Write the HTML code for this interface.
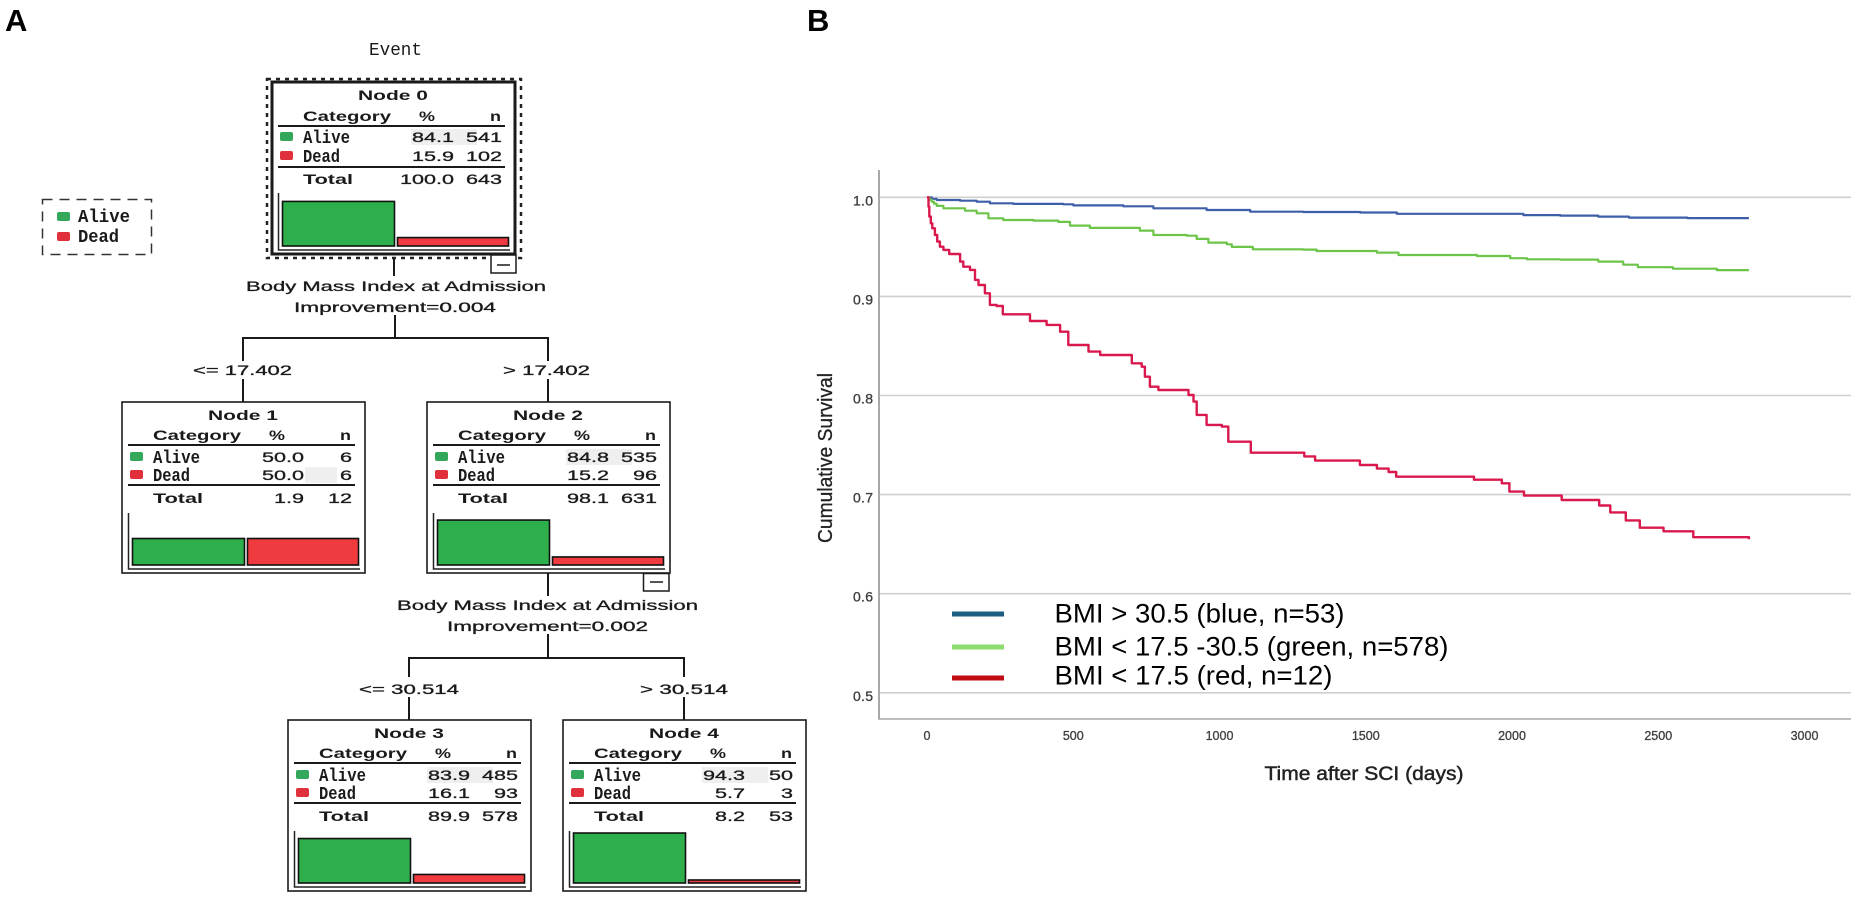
<!DOCTYPE html>
<html lang="en">
<head>
<meta charset="utf-8">
<title>Decision tree and Kaplan-Meier survival by BMI</title>
<style>
html,body{margin:0;padding:0;background:#fff;}
svg{display:block;}
text{font-family:"Liberation Sans",sans-serif;fill:#1a1a1a;}
.t{stroke:#1a1a1a;stroke-width:.3;}
.m{font-family:"Liberation Mono",monospace;font-weight:bold;font-size:18px;stroke:none;}
</style>
</head>
<body>
<svg id="fig" width="1854" height="904" viewBox="0 0 1854 904" xmlns="http://www.w3.org/2000/svg">
  <rect width="1854" height="904" fill="#fff"/>
  <text x="5" y="31" font-size="31" font-weight="bold" style="fill:#000">A</text>
  <text x="807" y="31" font-size="31" font-weight="bold" style="fill:#000">B</text>

  <g id="tree">
    <text class="m" x="369" y="55" style="font-weight:normal" font-size="19" textLength="53" lengthAdjust="spacingAndGlyphs">Event</text>

    <g>
      <rect x="42.5" y="199.5" width="109" height="55" fill="none" stroke="#333" stroke-width="1.5" stroke-dasharray="10 7"/>
      <rect x="57" y="212" width="13" height="9" rx="2" fill="#33a85a"/>
      <rect x="57" y="232" width="13" height="9" rx="2" fill="#e0303c"/>
      <text class="m" x="78" y="222" textLength="52" lengthAdjust="spacingAndGlyphs">Alive</text>
      <text class="m" x="78" y="242" textLength="41" lengthAdjust="spacingAndGlyphs">Dead</text>
    </g>

    <g fill="none" stroke="#1a1a1a" stroke-width="2">
      <path d="M394 258V276"/>
      <path d="M395 315V338M243 361V338H548V361M243 379V402M548 379V402"/>
      <path d="M548 573V596"/>
      <path d="M548 634V658M409 677V658H684V677M409 697V720M684 697V720"/>
    </g>

    <g class="labels">
      <text class="t" x="246" y="291" font-size="14" textLength="300" lengthAdjust="spacingAndGlyphs">Body Mass Index at Admission</text>
      <text class="t" x="294" y="312" font-size="14" textLength="202" lengthAdjust="spacingAndGlyphs">Improvement=0.004</text>
      <text class="t" x="193" y="375" font-size="14" textLength="99" lengthAdjust="spacingAndGlyphs">&lt;= 17.402</text>
      <text class="t" x="503" y="375" font-size="14" textLength="87" lengthAdjust="spacingAndGlyphs">&gt; 17.402</text>
      <text class="t" x="397" y="610" font-size="14" textLength="301" lengthAdjust="spacingAndGlyphs">Body Mass Index at Admission</text>
      <text class="t" x="447" y="631" font-size="14" textLength="201" lengthAdjust="spacingAndGlyphs">Improvement=0.002</text>
      <text class="t" x="359" y="694" font-size="14" textLength="100" lengthAdjust="spacingAndGlyphs">&lt;= 30.514</text>
      <text class="t" x="640" y="694" font-size="14" textLength="88" lengthAdjust="spacingAndGlyphs">&gt; 30.514</text>
    </g>

    <g>
      <rect x="267" y="79" width="254" height="179" fill="none" stroke="#222" stroke-width="2.5" stroke-dasharray="4 5"/>
    </g>
    <g id="nodes"></g>

    <g fill="#fff" stroke="#1a1a1a" stroke-width="1.5">
      <g>
        <rect x="491" y="255" width="25" height="18"/>
        <path d="M497 265H510"/>
      </g>
      <g>
        <rect x="643.5" y="573.5" width="25.5" height="17.5"/>
        <path d="M650 582H663"/>
      </g>
    </g>
  </g>

  <g id="chart"></g>
</svg>

<script>
var NS = 'http://www.w3.org/2000/svg';

/* ---------- Decision tree data ---------- */
var nodeIds = [0, 1, 2, 3, 4];
var nodeLeft = [272, 122, 427, 288, 563];
var nodeTop = [82, 402, 402, 720, 720];
var alivePct = ['84.1', '50.0', '84.8', '83.9', '94.3'];
var aliveN = ['541', '6', '535', '485', '50'];
var deadPct = ['15.9', '50.0', '15.2', '16.1', '5.7'];
var deadN = ['102', '6', '96', '93', '3'];
var totalPct = ['100.0', '1.9', '98.1', '89.9', '8.2'];
var totalN = ['643', '12', '631', '578', '53'];

/* ---------- Survival chart data ---------- */
var xTickLabels = [0, 500, 1000, 1500, 2000, 2500, 3000];
var yTickLabels = ['0.5', '0.6', '0.7', '0.8', '0.9', '1.0'];
var blueTimes = [0, 16, 33, 113, 170, 215, 295, 466, 500, 671, 774, 888, 956, 1105, 1287, 1481, 1606, 1937, 2039, 2165, 2295, 2400, 2600, 2810];
var blueSurvival = [1, .9985, .9973, .9966, .9956, .9939, .9933, .9929, .9918, .9909, .9889, .9889, .9872, .9855, .9852, .9847, .9833, .9833, .982, .9815, .9805, .9795, .979, .979];
var greenTimes = [0, 8, 16, 24, 33, 56, 113, 130, 170, 210, 261, 364, 449, 489, 557, 666, 728, 774, 888, 922, 962, 1025, 1042, 1114, 1287, 1332, 1538, 1612, 1880, 1994, 2051, 2165, 2295, 2380, 2430, 2550, 2700, 2810];
var greenSurvival = [1, .9975, .9956, .9935, .9913, .9889, .9889, .9865, .9839, .9788, .9771, .9765, .9752, .9714, .9691, .9691, .9664, .962, .9613, .958, .9543, .9526, .9499, .9475, .9472, .9458, .9442, .9418, .9408, .9385, .9374, .9371, .9351, .932, .9295, .928, .9265, .9265];
var redTimes = [0, 5, 8, 13, 18, 27, 35, 44, 56, 76, 113, 124, 147, 164, 176, 198, 215, 238, 259, 352, 409, 455, 472, 483, 552, 592, 700, 734, 745, 762, 791, 894, 911, 922, 956, 1008, 1030, 1107, 1290, 1327, 1480, 1538, 1578, 1604, 1870, 1965, 1991, 2041, 2170, 2298, 2336, 2389, 2437, 2518, 2620, 2800, 2810];
var redSurvival = [1, .9906, .9805, .9738, .9687, .962, .9553, .9502, .9469, .9428, .9351, .93, .9267, .9166, .9115, .9031, .8914, .8903, .8819, .8752, .8712, .8644, .8644, .851, .8443, .8409, .8325, .8291, .819, .8089, .8056, .8005, .7938, .7804, .7703, .7686, .7534, .7423, .7385, .7343, .7299, .7262, .7228, .7181, .7150, .7114, .703, .699, .6946, .689, .682, .674, .6666, .663, .657, .657, .655];

function make(parent, tag, attrs, text) {
  var el = document.createElementNS(NS, tag);
  for (var k in attrs) { el.setAttribute(k, attrs[k]); }
  if (text !== undefined) { el.textContent = text; }
  parent.appendChild(el);
  return el;
}

/* ---------- Tree nodes ---------- */
function numWidth(s) {
  var w = 0;
  for (var i = 0; i < s.length; i++) { w += s[i] === '.' ? 6 : 12; }
  return w;
}
var nodesGroup = document.getElementById('nodes');
nodeIds.forEach(function (id, i) {
  var L = nodeLeft[i], T = nodeTop[i];
  var g = make(nodesGroup, 'g', {});
  
  

  var box = make(g, 'rect', { x: L, y: T, width: 243, height: id === 0 ? 172 : 171, fill: '#fff', stroke: '#1a1a1a', 'stroke-width': id === 0 ? 3 : 1.6 });
  
  

  var big = id === 0 ? 1 : 0;
  var yAlive = T + 55, yDead = T + 73 + big, yTotal = T + 96 + big;

  var hiRow = id === 1 ? yDead : yAlive;
  var hiX = id === 1 ? L + 183 : L + 139;
  var hiW = id === 1 ? 32 : 66;
  var hi = make(g, 'rect', { x: hiX, y: hiRow - 8, width: hiW, height: 16, fill: '#efefef' });
  
  

  var title = make(g, 'text', { x: L + 121, y: T + 18, 'text-anchor': 'middle', 'font-size': 14, 'font-weight': 'bold', textLength: 70, lengthAdjust: 'spacingAndGlyphs' }, 'Node ' + id);
  
  

  var cat = make(g, 'text', { x: L + 31, y: T + 38 + big, 'font-size': 14, 'font-weight': 'bold', textLength: 88, lengthAdjust: 'spacingAndGlyphs' }, 'Category');
  
  
  var pc = make(g, 'text', { x: L + 155, y: T + 38 + big, 'text-anchor': 'middle', 'font-size': 14, 'font-weight': 'bold', textLength: 16, lengthAdjust: 'spacingAndGlyphs' }, '%');
  
  
  var nh = make(g, 'text', { x: L + 229, y: T + 38 + big, 'text-anchor': 'end', 'font-size': 14, 'font-weight': 'bold', textLength: 11, lengthAdjust: 'spacingAndGlyphs' }, 'n');
  
  

  var r1 = make(g, 'rect', { x: L + 6, y: T + 42 + big, width: 227, height: 2, fill: '#1a1a1a' });
  
  
  var r2 = make(g, 'rect', { x: L + 6, y: T + 82 + big * 2, width: 227, height: 2, fill: '#1a1a1a' });
  
  

  var s1 = make(g, 'rect', { x: L + 8, y: yAlive - 5, width: 13, height: 9, rx: 2, fill: '#33a85a' });
  
  
  var s2 = make(g, 'rect', { x: L + 8, y: yDead - 5, width: 13, height: 9, rx: 2, fill: '#e0303c' });
  
  

  var la = make(g, 'text', { 'class': 'm', x: L + 31, y: yAlive + 6, textLength: 47, lengthAdjust: 'spacingAndGlyphs' }, 'Alive');
  
  
  var ld = make(g, 'text', { 'class': 'm', x: L + 31, y: yDead + 6, textLength: 37, lengthAdjust: 'spacingAndGlyphs' }, 'Dead');
  
  
  var lt = make(g, 'text', { x: L + 31, y: yTotal + 5, 'font-size': 14, 'font-weight': 'bold', textLength: 50, lengthAdjust: 'spacingAndGlyphs' }, 'Total');
  
  

  var rows = [[yAlive, alivePct[i], aliveN[i], 'alive'], [yDead, deadPct[i], deadN[i], 'dead'], [yTotal, totalPct[i], totalN[i], 'total']];
  rows.forEach(function (r) {
    var a = make(g, 'text', { 'class': 't', x: L + 182, y: r[0] + 5, 'text-anchor': 'end', 'font-size': 14, textLength: numWidth(r[1]), lengthAdjust: 'spacingAndGlyphs' }, r[1]);
    
    
    var b = make(g, 'text', { 'class': 't', x: L + 230, y: r[0] + 5, 'text-anchor': 'end', 'font-size': 14, textLength: numWidth(r[2]), lengthAdjust: 'spacingAndGlyphs' }, r[2]);
    
    
  });

  var base = T + 163 + big;
  var hA = parseFloat(alivePct[i]) * 0.53;
  var hD = parseFloat(deadPct[i]) * 0.53;
  var ba = make(g, 'rect', { x: L + 10.5, y: base - hA, width: 112, height: hA, fill: '#2db04b', stroke: '#111', 'stroke-width': 1.6 });
  
  
  var bd = make(g, 'rect', { x: L + 125.5, y: base - hD, width: 111, height: hD, fill: '#ef3b3f', stroke: '#111', 'stroke-width': 1.6 });
  
  
  var ax = make(g, 'path', { d: 'M' + (L + 6.5) + ' ' + (T + 111) + 'V' + (base + 4) + 'H' + (L + 238), fill: 'none', stroke: '#222', 'stroke-width': 1.5 });
  
  
});

/* ---------- Survival chart ---------- */
function xScale(t) { return 927 + t * 0.2925; }
function yScale(s) { return 197.3 + (1 - s) * 991; }

var chart = document.getElementById('chart');

yTickLabels.forEach(function (lab) {
  var y = yScale(parseFloat(lab));
  var grid = make(chart, 'line', { x1: 879, x2: 1851, y1: y, y2: y, stroke: '#cfcfcf', 'stroke-width': 1.6 });
  
  
  var t = make(chart, 'text', { x: 873, y: y + 8, 'text-anchor': 'end', 'font-size': 14, textLength: 20, style: 'fill:#3f3f3f;stroke:#3f3f3f;stroke-width:.35' }, lab);
  
  
});

var yAxis = make(chart, 'line', { x1: 879, x2: 879, y1: 170, y2: 719, stroke: '#a8a8a8', 'stroke-width': 2 });


var xAxis = make(chart, 'line', { x1: 878, x2: 1851, y1: 719, y2: 719, stroke: '#a8a8a8', 'stroke-width': 1.6 });



xTickLabels.forEach(function (lab) {
  var t = make(chart, 'text', { x: xScale(lab), y: 740, 'text-anchor': 'middle', 'font-size': 12.5, style: 'fill:#3f3f3f;stroke:#3f3f3f;stroke-width:.3' }, String(lab));
  
  
});

var yTitle = make(chart, 'text', { transform: 'translate(832 458) rotate(-90)', 'text-anchor': 'middle', 'font-size': 20, textLength: 170, lengthAdjust: 'spacingAndGlyphs', style: 'fill:#222;stroke:#222;stroke-width:.3' }, 'Cumulative Survival');


var xTitle = make(chart, 'text', { x: 1364, y: 780, 'text-anchor': 'middle', 'font-size': 19, textLength: 199, lengthAdjust: 'spacingAndGlyphs', style: 'fill:#222;stroke:#222;stroke-width:.45' }, 'Time after SCI (days)');



function stepPath(times, surv) {
  var d = 'M' + xScale(times[0]).toFixed(1) + ' ' + yScale(surv[0]).toFixed(1);
  for (var i = 1; i < times.length; i++) {
    d += 'H' + xScale(times[i]).toFixed(1) + 'V' + yScale(surv[i]).toFixed(1);
  }
  return d;
}

var blueCurve = make(chart, 'path', { d: stepPath(blueTimes, blueSurvival), fill: 'none', stroke: '#3f5ea8', 'stroke-width': 2.2, 'stroke-linejoin': 'round' });


var greenCurve = make(chart, 'path', { d: stepPath(greenTimes, greenSurvival), fill: 'none', stroke: '#6cc449', 'stroke-width': 2.2, 'stroke-linejoin': 'round' });


var redCurve = make(chart, 'path', { d: stepPath(redTimes, redSurvival), fill: 'none', stroke: '#d9194d', 'stroke-width': 2.4, 'stroke-linejoin': 'round' });



var legendLabels = ['BMI > 30.5 (blue, n=53)', 'BMI < 17.5 -30.5 (green, n=578)', 'BMI < 17.5 (red, n=12)'];
var legendColors = ['#1b5e82', '#8edb6f', '#c00a14'];
var legendWidths = [290, 394, 278];
legendLabels.forEach(function (lab, i) {
  var keyY = i === 0 ? 614 : (i === 1 ? 647 : 678);
  var textY = i === 0 ? 622.5 : (i === 1 ? 655.5 : 684.5);
  var k = make(chart, 'rect', { x: 952, y: keyY - 2.5, width: 52, height: 5, fill: legendColors[i] });
  
  
  var t = make(chart, 'text', { x: 1054.5, y: textY, 'font-size': 27, textLength: legendWidths[i], lengthAdjust: 'spacingAndGlyphs', style: 'fill:#000' }, lab);
  
  
});
</script>
</body>
</html>
